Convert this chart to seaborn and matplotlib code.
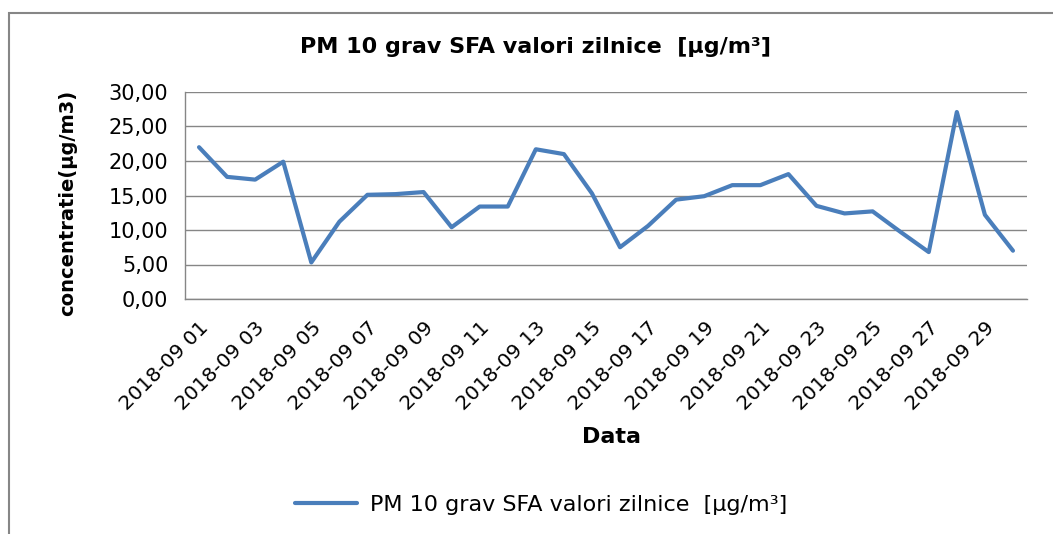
import numpy as np
import pandas as pd
import seaborn as sns
import matplotlib
matplotlib.use("Agg")
import matplotlib.pyplot as plt
from matplotlib.ticker import FuncFormatter, FixedLocator
from matplotlib.patches import Rectangle

# Date zilnice PM10 (septembrie 2018)
zile = ["2018-09 %02d" % d for d in range(1, 31)]
valori = [22.0, 17.7, 17.3, 19.9, 5.3, 11.2, 15.1, 15.2, 15.5, 10.4,
          13.4, 13.4, 21.7, 21.0, 15.3, 7.5, 10.6, 14.4, 14.9, 16.5,
          16.5, 18.1, 13.5, 12.4, 12.7, 9.7, 6.8, 27.1, 12.2, 7.0]
serie = "PM 10 grav SFA valori zilnice  [µg/m³]"
titlu = "PM 10 grav SFA valori zilnice  [µg/m³]"
eticheta_y = "concentratie(µg/m3)"
eticheta_x = "Data"

df = pd.DataFrame({"poz": np.arange(len(zile)), "val": valori})

sns.set_style("white")
plt.rcParams['font.family'] = ['DejaVu Sans']
plt.rcParams['text.color'] = 'black'
plt.rcParams['xtick.labelcolor'] = 'black'
plt.rcParams['ytick.labelcolor'] = 'black'

fig = plt.figure(figsize=(10.53, 5.34), dpi=100)
ax = fig.add_axes([185/1053, 1-299/534, (1027-185)/1053, (299-92)/534])

sns.lineplot(data=df, x="poz", y="val", ax=ax, color="#4A7EBB", linewidth=3.0,
             label=serie, legend=False)

gri = "#868686"
ax.set_xlim(-0.5, len(zile) - 0.5)
ax.set_ylim(0, 30)
ax.set_yticks(np.arange(0, 31, 5))
ax.yaxis.set_major_formatter(FuncFormatter(lambda v, p: ("%.2f" % v).replace(".", ",")))
ax.grid(axis="y", color=gri, linewidth=1.0)
ax.set_axisbelow(True)

ax.xaxis.set_major_locator(FixedLocator(np.arange(0, len(zile), 2)))
ax.set_xticklabels(zile[::2], rotation=45, ha="right", rotation_mode="anchor")
ax.xaxis.set_minor_locator(FixedLocator(np.arange(-0.5, len(zile), 1)))
ax.tick_params(axis="x", which="major", length=0, pad=14, labelsize=14.5)
ax.tick_params(axis="x", which="minor", length=6, color=gri, width=1, direction="out")
ax.tick_params(axis="y", length=6, color=gri, width=1, direction="out", labelsize=15, pad=6)

for s in ["top", "right"]:
    ax.spines[s].set_visible(False)
for s in ["left", "bottom"]:
    ax.spines[s].set_color(gri)
    ax.spines[s].set_linewidth(1.0)

ax.set_xlabel("")
ax.set_ylabel("")
fig.text(611/1053, 1-437/534, eticheta_x, ha="center", va="center",
         fontsize=16, fontweight="bold")
fig.text(68/1053, 1-203/534, eticheta_y, ha="center", va="center",
         rotation=90, fontsize=14, fontweight="bold")
fig.text(535/1053, 1-47/534, titlu, ha="center", va="center",
         fontsize=16, fontweight="bold")

h, l = ax.get_legend_handles_labels()
fig.legend(h, l, loc="center", bbox_to_anchor=(541/1053, 1-505/534), frameon=False,
           fontsize=16, handlelength=2.8, handletextpad=0.6)

fig.patches.append(Rectangle((9/1053, -0.2), 1.2, 1.2 - 13/534, transform=fig.transFigure,
                             fill=False, edgecolor=gri, linewidth=1.5))

fig.savefig("out.png", dpi=100)
